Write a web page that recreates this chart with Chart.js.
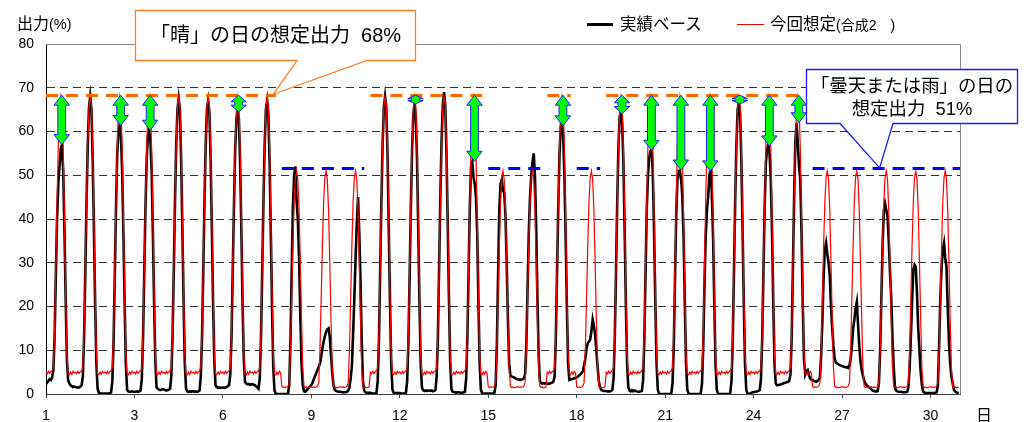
<!DOCTYPE html>
<html lang="ja">
<head>
    <meta charset="UTF-8">
    <title>出力 実績ベース / 今回想定</title>
    <style>
        body { margin: 0; background: #fff; }
        #wrap { position: relative; width: 1032px; height: 422px; }
        canvas { position: absolute; left: 0; top: 0; }
        .t {
            position: absolute;
            font-family: 'Liberation Sans', 'Noto Sans CJK JP', sans-serif;
            color: #000;
            white-space: nowrap;
            line-height: 20px;
        }
        .leg { position: absolute; }
    </style>
    <script src="https://cdn.jsdelivr.net/npm/chart.js"></script>
</head>
<body>
<div id="wrap">
    <canvas id="chart" width="1032" height="422"></canvas>

    <div class="t" style="left:17px;top:14px;font-size:16px;">出力<span style="font-size:14.5px;">(%)</span></div>

    <div class="leg" style="left:587px;top:23px;width:26px;height:3px;background:#000;"></div>
    <div class="t" style="left:620px;top:14px;font-size:16.5px;">実績ベース</div>
    <div class="leg" style="left:737px;top:24px;width:27px;height:1.3px;background:#ff0000;"></div>
    <div class="t" style="left:770px;top:14px;font-size:16.5px;">今回想定<span style="font-size:14px;">(合成2　)</span></div>

    <div class="t" style="left:135px;top:25px;width:281px;text-align:center;font-size:20px;">「晴」の日の想定出力&nbsp;&nbsp;68%</div>
    <div class="t" style="left:806px;top:76px;width:212px;text-align:center;font-size:18.4px;">「曇天または雨」の日の</div>
    <div class="t" style="left:806px;top:99px;width:212px;text-align:center;font-size:18.4px;">想定出力&nbsp;&nbsp;51%</div>

    <div class="t" style="left:976px;top:406px;font-size:16px;">日</div>
</div>

<script>
    // hourly values, one row per day (h0 .. h23), 31 days
    const actual = [
        2.2,2.6,3.0,3.4,3.2,3.8, 5.5,13,27,40,48,52,56,57,51,38,22,8, 3.2,2.4,2.0,1.8,1.6,1.7,
        1.6,1.5,1.5,1.5,1.7,2.0, 4.0,13,28,44,57,65.5,68,65,54,38,21,7, 1.2,0.3,0.2,0.1,0.1,0.1,
        0.1,0.1,0.1,0.1,0.2,0.4, 3.0,12,27,43,55,60,61.5,59,51,37,21,7, 1.0,0.6,0.5,0.5,0.6,0.5,
        0.5,0.5,0.6,0.5,0.6,0.8, 3.5,13,28,43,54,59,60.5,58,51,37,21,7.5, 1.5,1.2,1.0,0.9,1.0,1.1,
        1.0,0.9,0.8,0.9,1.0,1.2, 4.0,13,28,44,57,65,67.5,65,54,38,21,7, 1.2,0.6,0.5,0.6,0.5,0.6,
        0.6,0.5,0.6,0.5,0.6,0.8, 4.0,13,28,44,57,65,67,64.5,54,38,21,7.5, 2.0,1.6,1.4,1.5,1.4,1.5,
        1.5,1.4,1.5,1.6,1.8,2.0, 4.5,13,28,43,56,63,64.5,63,53,38,21,8, 2.8,2.4,2.2,2.3,2.1,2.2,
        2.2,2.1,2.0,1.8,1.5,1.2, 3.5,13,28,44,57,65,67,64,53,37,20,6, 0.8,0.1,0.0,0.0,0.0,0.0,
        0.0,0.0,0.0,0.0,0.0,0.1, 2.0,12,28,43,50,52,44,40,31,18,7,2, 0.6,0.5,0.8,1.1,1.5,1.7,
        2.1,2.6,3.4,4.1,4.8,5.5, 6.2,7.0,8.5,10.5,12,13.2,14.2,14.8,15,13,9,5, 2.0,1.0,0.7,0.6,0.5,0.5,
        0.5,0.4,0.4,0.4,0.4,0.5, 0.8,1.5,3.5,6.5,14,22,31,39,45,37,26,12, 3.0,0.8,0.4,0.3,0.3,0.3,
        0.3,0.2,0.1,0.1,0.1,0.2, 3.0,12,28,44,57,65.5,68,65.5,55,38,21,7, 1.0,0.3,0.2,0.2,0.2,0.2,
        0.2,0.1,0.1,0.1,0.2,0.3, 3.0,12,27,43,56,64,66,63.5,54,38,21,7, 1.5,0.9,0.7,0.8,0.7,0.8,
        0.8,0.7,0.8,0.6,0.7,0.9, 4.0,13,29,45,58,66,69,66,55,39,22,7.5, 1.2,0.5,0.4,0.4,0.3,0.4,
        0.4,0.3,0.3,0.3,0.4,0.5, 3.5,13,28,43,52,53,49.5,48,45,37,21,7, 1.0,0.2,0.1,0.1,0.1,0.1,
        0.1,0.1,0.1,0.1,0.1,0.3, 2.0,11,27,42,48,49,46.5,46,41,30,17,7, 4.2,4.0,3.9,3.8,3.6,3.4,
        3.4,3.3,3.2,3.3,3.4,3.6, 4.5,11,24,37,45,50,53,55,50,38,22,9, 3.0,2.5,2.4,2.5,2.4,2.5,
        2.4,2.3,2.4,2.5,2.6,2.8, 4.0,13,28,43,55,61,62,59,50,36,20,7, 3.2,3.3,3.4,3.5,3.6,3.7,
        3.8,4.0,4.2,4.5,4.8,5.2, 6.5,8.0,10.5,11.6,12,12.5,14.5,17,15.5,13.5,10,6.2, 3.0,1.5,0.9,0.8,0.7,0.7,
        0.7,0.6,0.6,0.6,0.7,0.9, 3.5,13,28,44,57,63.5,64,62,53,38,21,7, 1.5,0.8,0.6,0.9,0.6,0.8,
        0.7,0.6,0.5,0.5,0.6,0.7, 3.0,12,27,42,50,54,55.5,56,50,37,21,7, 1.0,0.1,0.0,0.0,0.0,0.0,
        0.0,0.0,0.0,0.0,0.0,0.2, 2.5,11,26,41,49,51,51,49,45,36,21,7, 1.0,0.1,0.0,0.0,0.0,0.0,
        0.0,0.0,0.0,0.0,0.0,0.2, 2.5,11,25,36,42,45,50,51,46,36,21,7, 1.0,0.1,0.0,0.0,0.0,0.0,
        0.0,0.0,0.0,0.0,0.0,0.2, 3.0,12,28,44,57,65,66.5,64,54,38,21,7, 1.0,0.1,0.0,0.1,0.2,0.4,
        0.4,0.5,0.5,0.6,0.7,0.9, 3.5,13,28,43,53,56,57,55,49,37,21,7, 2.5,2.0,2.0,2.1,2.2,2.3,
        2.4,2.5,2.6,2.7,2.8,3.0, 4.5,13,29,45,58,62,57,52,49,37,21,8, 4.5,5.3,5.5,4.3,3.6,3.3,
        3.2,3.0,2.9,2.8,3.0,3.2, 3.8,9,17,27,33,34.5,32,30,27,20,15,11, 8.0,7.2,7.0,6.8,6.6,6.5,
        6.4,6.3,6.2,6.1,6.2,6.0, 6.5,8,11,15,17,19.5,21,16,11,7.5,5.5,4.2, 3.0,2.4,2.0,1.8,1.5,1.3,
        1.0,0.8,0.7,0.6,0.6,0.7, 2.5,10,22,34,42,43.5,42,40.5,35,28,22,13, 6.5,1.5,0.8,0.6,0.5,0.5,
        0.5,0.4,0.4,0.4,0.4,0.5, 1.5,6,13,21,28.5,29.5,29,23,15,10,5,2, 0.6,0.3,0.2,0.2,0.2,0.2,
        0.2,0.2,0.2,0.2,0.3,0.4, 2.0,11,22,29,33,34.5,31,29,20,12,7,4, 2.5,1.0,0.6,0.4,0.3,0.2
    ];

    const assumed = [
        5.0,4.6,5.2,4.7,5.1,5.3, 6.0,14,29,44,57,65.5,68,66,56,40,23,9, 4.6,4.4,5.0,4.5,5.2,4.8,
        5.0,4.6,5.2,4.7,5.1,5.3, 6.0,14,29,44,57,65.5,68,66,56,40,23,9, 4.6,4.4,5.0,4.5,5.2,4.8,
        5.0,4.6,5.2,4.7,5.1,5.3, 6.0,14,29,44,57,65.5,68,66,56,40,23,9, 4.6,4.4,5.0,4.5,5.2,4.8,
        5.0,4.6,5.2,4.7,5.1,5.3, 6.0,14,29,44,57,65.5,68,66,56,40,23,9, 4.6,4.4,5.0,4.5,5.2,4.8,
        5.0,4.6,5.2,4.7,5.1,5.3, 6.0,14,29,44,57,65.5,68,66,56,40,23,9, 4.6,4.4,5.0,4.5,5.2,4.8,
        5.0,4.6,5.2,4.7,5.1,5.3, 6.0,14,29,44,57,65.5,68,66,56,40,23,9, 4.6,4.4,5.0,4.5,5.2,4.8,
        5.0,4.6,5.2,4.7,5.1,5.3, 6.0,14,29,44,57,65.5,68,66,56,40,23,9, 4.6,4.4,5.0,4.5,5.2,4.8,
        5.0,4.6,5.2,4.7,5.1,5.3, 6.0,14,29,44,57,65.5,68,66,56,40,23,9, 4.6,4.4,5.0,4.5,5.2,4.8,
        1.7,1.5,1.6,1.5,1.6,1.8, 2.6,10,22,34,44,49.5,51,49,42,30,17,6, 1.8,1.5,1.6,1.4,1.5,1.6,
        1.7,1.5,1.6,1.5,1.6,1.8, 2.6,10,22,34,44,49.5,51,49,42,30,17,6, 1.8,1.5,1.6,1.4,1.5,1.6,
        1.7,1.5,1.6,1.5,1.6,1.8, 2.6,10,22,34,44,49.5,51,49,42,30,17,6, 1.8,1.5,1.6,1.4,1.5,1.6,
        5.0,4.6,5.2,4.7,5.1,5.3, 6.0,14,29,44,57,65.5,68,66,56,40,23,9, 4.6,4.4,5.0,4.5,5.2,4.8,
        5.0,4.6,5.2,4.7,5.1,5.3, 6.0,14,29,44,57,65.5,68,66,56,40,23,9, 4.6,4.4,5.0,4.5,5.2,4.8,
        5.0,4.6,5.2,4.7,5.1,5.3, 6.0,14,29,44,57,65.5,68,66,56,40,23,9, 4.6,4.4,5.0,4.5,5.2,4.8,
        5.0,4.6,5.2,4.7,5.1,5.3, 6.0,14,29,44,57,65.5,68,66,56,40,23,9, 4.6,4.4,5.0,4.5,5.2,4.8,
        1.7,1.5,1.6,1.5,1.6,1.8, 2.6,10,22,34,44,49.5,51,49,42,30,17,6, 1.8,1.5,1.6,1.4,1.5,1.6,
        1.7,1.5,1.6,1.5,1.6,1.8, 2.6,10,22,34,44,49.5,51,49,42,30,17,6, 1.8,1.5,1.6,1.4,1.5,1.6,
        5.0,4.6,5.2,4.7,5.1,5.3, 6.0,14,29,44,57,65.5,68,66,56,40,23,9, 4.6,4.4,5.0,4.5,5.2,4.8,
        1.7,1.5,1.6,1.5,1.6,1.8, 2.6,10,22,34,44,49.5,51,49,42,30,17,6, 1.8,1.5,1.6,1.4,1.5,1.6,
        5.0,4.6,5.2,4.7,5.1,5.3, 6.0,14,29,44,57,65.5,68,66,56,40,23,9, 4.6,4.4,5.0,4.5,5.2,4.8,
        5.0,4.6,5.2,4.7,5.1,5.3, 6.0,14,29,44,57,65.5,68,66,56,40,23,9, 4.6,4.4,5.0,4.5,5.2,4.8,
        5.0,4.6,5.2,4.7,5.1,5.3, 6.0,14,29,44,57,65.5,68,66,56,40,23,9, 4.6,4.4,5.0,4.5,5.2,4.8,
        5.0,4.6,5.2,4.7,5.1,5.3, 6.0,14,29,44,57,65.5,68,66,56,40,23,9, 4.6,4.4,5.0,4.5,5.2,4.8,
        5.0,4.6,5.2,4.7,5.1,5.3, 6.0,14,29,44,57,65.5,68,66,56,40,23,9, 4.6,4.4,5.0,4.5,5.2,4.8,
        5.0,4.6,5.2,4.7,5.1,5.3, 6.0,14,29,44,57,65.5,68,66,56,40,23,9, 4.6,4.4,5.0,4.5,5.2,4.8,
        5.0,4.6,5.2,4.7,5.1,5.3, 6.0,14,29,44,57,65.5,68,66,56,40,23,9, 4.6,4.4,5.0,4.5,5.2,4.8,
        1.7,1.5,1.6,1.5,1.6,1.8, 2.6,10,22,34,44,49.5,51,49,42,30,17,6, 1.8,1.5,1.6,1.4,1.5,1.6,
        1.7,1.5,1.6,1.5,1.6,1.8, 2.6,10,22,34,44,49.5,51,49,42,30,17,6, 1.8,1.5,1.6,1.4,1.5,1.6,
        1.7,1.5,1.6,1.5,1.6,1.8, 2.6,10,22,34,44,49.5,51,49,42,30,17,6, 1.8,1.5,1.6,1.4,1.5,1.6,
        1.7,1.5,1.6,1.5,1.6,1.8, 2.6,10,22,34,44,49.5,51,49,42,30,17,6, 1.8,1.5,1.6,1.4,1.5,1.6,
        1.7,1.5,1.6,1.5,1.6,1.8, 2.6,10,22,34,44,49.5,51,49,42,30,17,6, 1.8,1.5,1.6,1.4,1.5,1.6
    ];

    const xTickLabels = ['1', '3', '6', '9', '12', '15', '18', '21', '24', '27', '30'];

    // S = 晴 (68%), C = 曇天または雨 (51%)
    const dayType = ['S','S','S','S','S','S','S','S','C','C','C','S','S','S','S','C','C','S','C',
                     'S','S','S','S','S','S','S','C','C','C','C','C'];
    const sunnyLevel = 68.3;
    const cloudyLevel = 51.6;

    // green arrows: day, and the actual peak they reach down to
    const arrowDays = [1, 3, 4, 7, 13, 15, 18, 20, 21, 22, 23, 24, 25, 26];
    const arrowLow  = [57, 61.4, 60.3, 64.5, 66.3, 53.2, 61.3, 64, 55.7, 51.2, 51, 66.3, 56.7, 62];

    const deco = {
        id: 'deco',
        beforeDatasetsDraw(chart) {
            const { ctx, chartArea: a } = chart;
            ctx.save();
            ctx.strokeStyle = '#8c8c8c';
            ctx.lineWidth = 1;
            ctx.beginPath();
            ctx.moveTo(a.left, a.top + 0.5);
            ctx.lineTo(a.right + 0.5, a.top + 0.5);
            ctx.lineTo(a.right + 0.5, a.bottom);
            ctx.stroke();
            ctx.restore();
        },
        afterDatasetsDraw(chart) {
            const { ctx, scales: { x, y } } = chart;
            ctx.save();

            // dashed reference levels per run of same day type
            let start = 0;
            for (let d = 1; d <= dayType.length; d++) {
                if (d === dayType.length || dayType[d] !== dayType[start]) {
                    const sunny = dayType[start] === 'S';
                    const yy = Math.round(y.getPixelForValue(sunny ? sunnyLevel : cloudyLevel)) + 0.5;
                    ctx.strokeStyle = sunny ? '#ff6a00' : '#0000ff';
                    ctx.lineWidth = 3;
                    ctx.setLineDash([12, 8]);
                    ctx.beginPath();
                    ctx.moveTo(x.getPixelForValue(start * 24), yy);
                    ctx.lineTo(x.getPixelForValue(d * 24) - (d === dayType.length ? 0 : 6), yy);
                    ctx.stroke();
                    start = d;
                }
            }
            ctx.setLineDash([]);

            // double arrows
            arrowDays.forEach((day, i) => {
                const cx = x.getPixelForValue((day - 1) * 24 + 12.8);
                const yT = y.getPixelForValue(sunnyLevel);
                const yB = y.getPixelForValue(arrowLow[i]);
                const len = yB - yT;
                const hh = Math.min(10, len * 0.4);
                const hw = 7.7, sw = 3.9;
                ctx.beginPath();
                ctx.moveTo(cx, yT);
                ctx.lineTo(cx + hw, yT + hh);
                ctx.lineTo(cx + sw, yT + hh);
                ctx.lineTo(cx + sw, yB - hh);
                ctx.lineTo(cx + hw, yB - hh);
                ctx.lineTo(cx, yB);
                ctx.lineTo(cx - hw, yB - hh);
                ctx.lineTo(cx - sw, yB - hh);
                ctx.lineTo(cx - sw, yT + hh);
                ctx.lineTo(cx - hw, yT + hh);
                ctx.closePath();
                ctx.fillStyle = '#00ff00';
                ctx.fill();
                ctx.strokeStyle = '#2020ff';
                ctx.lineWidth = 1;
                ctx.stroke();
            });

            // callout boxes with pointer
            const callout = (x0, y0, x1, y1, ta, tb, tip, color) => {
                ctx.beginPath();
                ctx.moveTo(x0, y0);
                ctx.lineTo(x1, y0);
                ctx.lineTo(x1, y1);
                ctx.lineTo(tb, y1);
                ctx.lineTo(x.getPixelForValue(tip[0]), y.getPixelForValue(tip[1]));
                ctx.lineTo(ta, y1);
                ctx.lineTo(x0, y1);
                ctx.closePath();
                ctx.fillStyle = '#fff';
                ctx.fill();
                ctx.strokeStyle = color;
                ctx.lineWidth = 1.3;
                ctx.stroke();
            };
            callout(135.5, 10.5, 415.5, 60.5, 297, 367, [185, 68.5], '#ff8020');
            callout(806.5, 69.5, 1017.5, 123.5, 840, 893, [678.6, 51.7], '#1a1aff');

            ctx.restore();
        }
    };

    const ctx = document.getElementById('chart').getContext('2d');
    new Chart(ctx, {
        type: 'line',
        data: {
            datasets: [
                {
                    label: '実績ベース',
                    data: actual.map((v, i) => ({ x: i, y: v })),
                    borderColor: '#000000',
                    borderWidth: 2.6,
                    pointRadius: 0,
                    tension: 0,
                    order: 2
                },
                {
                    label: '今回想定(合成2)',
                    data: assumed.map((v, i) => ({ x: i, y: v })),
                    borderColor: '#ff0000',
                    borderWidth: 1.2,
                    pointRadius: 0,
                    tension: 0,
                    order: 1
                }
            ]
        },
        options: {
            responsive: false,
            animation: false,
            devicePixelRatio: 1,
            events: [],
            layout: { padding: { top: 44, right: 72, left: 0, bottom: 0 } },
            plugins: { legend: { display: false }, tooltip: { enabled: false } },
            scales: {
                x: {
                    type: 'linear',
                    min: 0,
                    max: 744,
                    afterBuildTicks: s => { s.ticks = xTickLabels.map((_, i) => ({ value: i * 72 })); },
                    afterFit: s => { s.height = 28; },
                    ticks: {
                        autoSkip: false,
                        maxRotation: 0,
                        padding: 10,
                        color: '#000',
                        font: { family: "'Liberation Sans', Arial, sans-serif", size: 14 },
                        callback: (v, i) => xTickLabels[i]
                    },
                    grid: { drawOnChartArea: false, drawTicks: true, tickLength: 4, color: '#404040' },
                    border: { color: '#404040', width: 1 }
                },
                y: {
                    min: 0,
                    max: 80,
                    afterFit: s => { s.width = 46; },
                    ticks: {
                        stepSize: 10,
                        padding: 12,
                        color: '#000',
                        font: { family: "'Liberation Sans', Arial, sans-serif", size: 14 }
                    },
                    grid: {
                        drawTicks: false,
                        color: c => (c.tick.value === 0 || c.tick.value === 80) ? 'rgba(0,0,0,0)' : '#333333'
                    },
                    border: { color: '#000', width: 1, dash: [8, 5] }
                }
            }
        },
        plugins: [deco]
    });
</script>
</body>
</html>
